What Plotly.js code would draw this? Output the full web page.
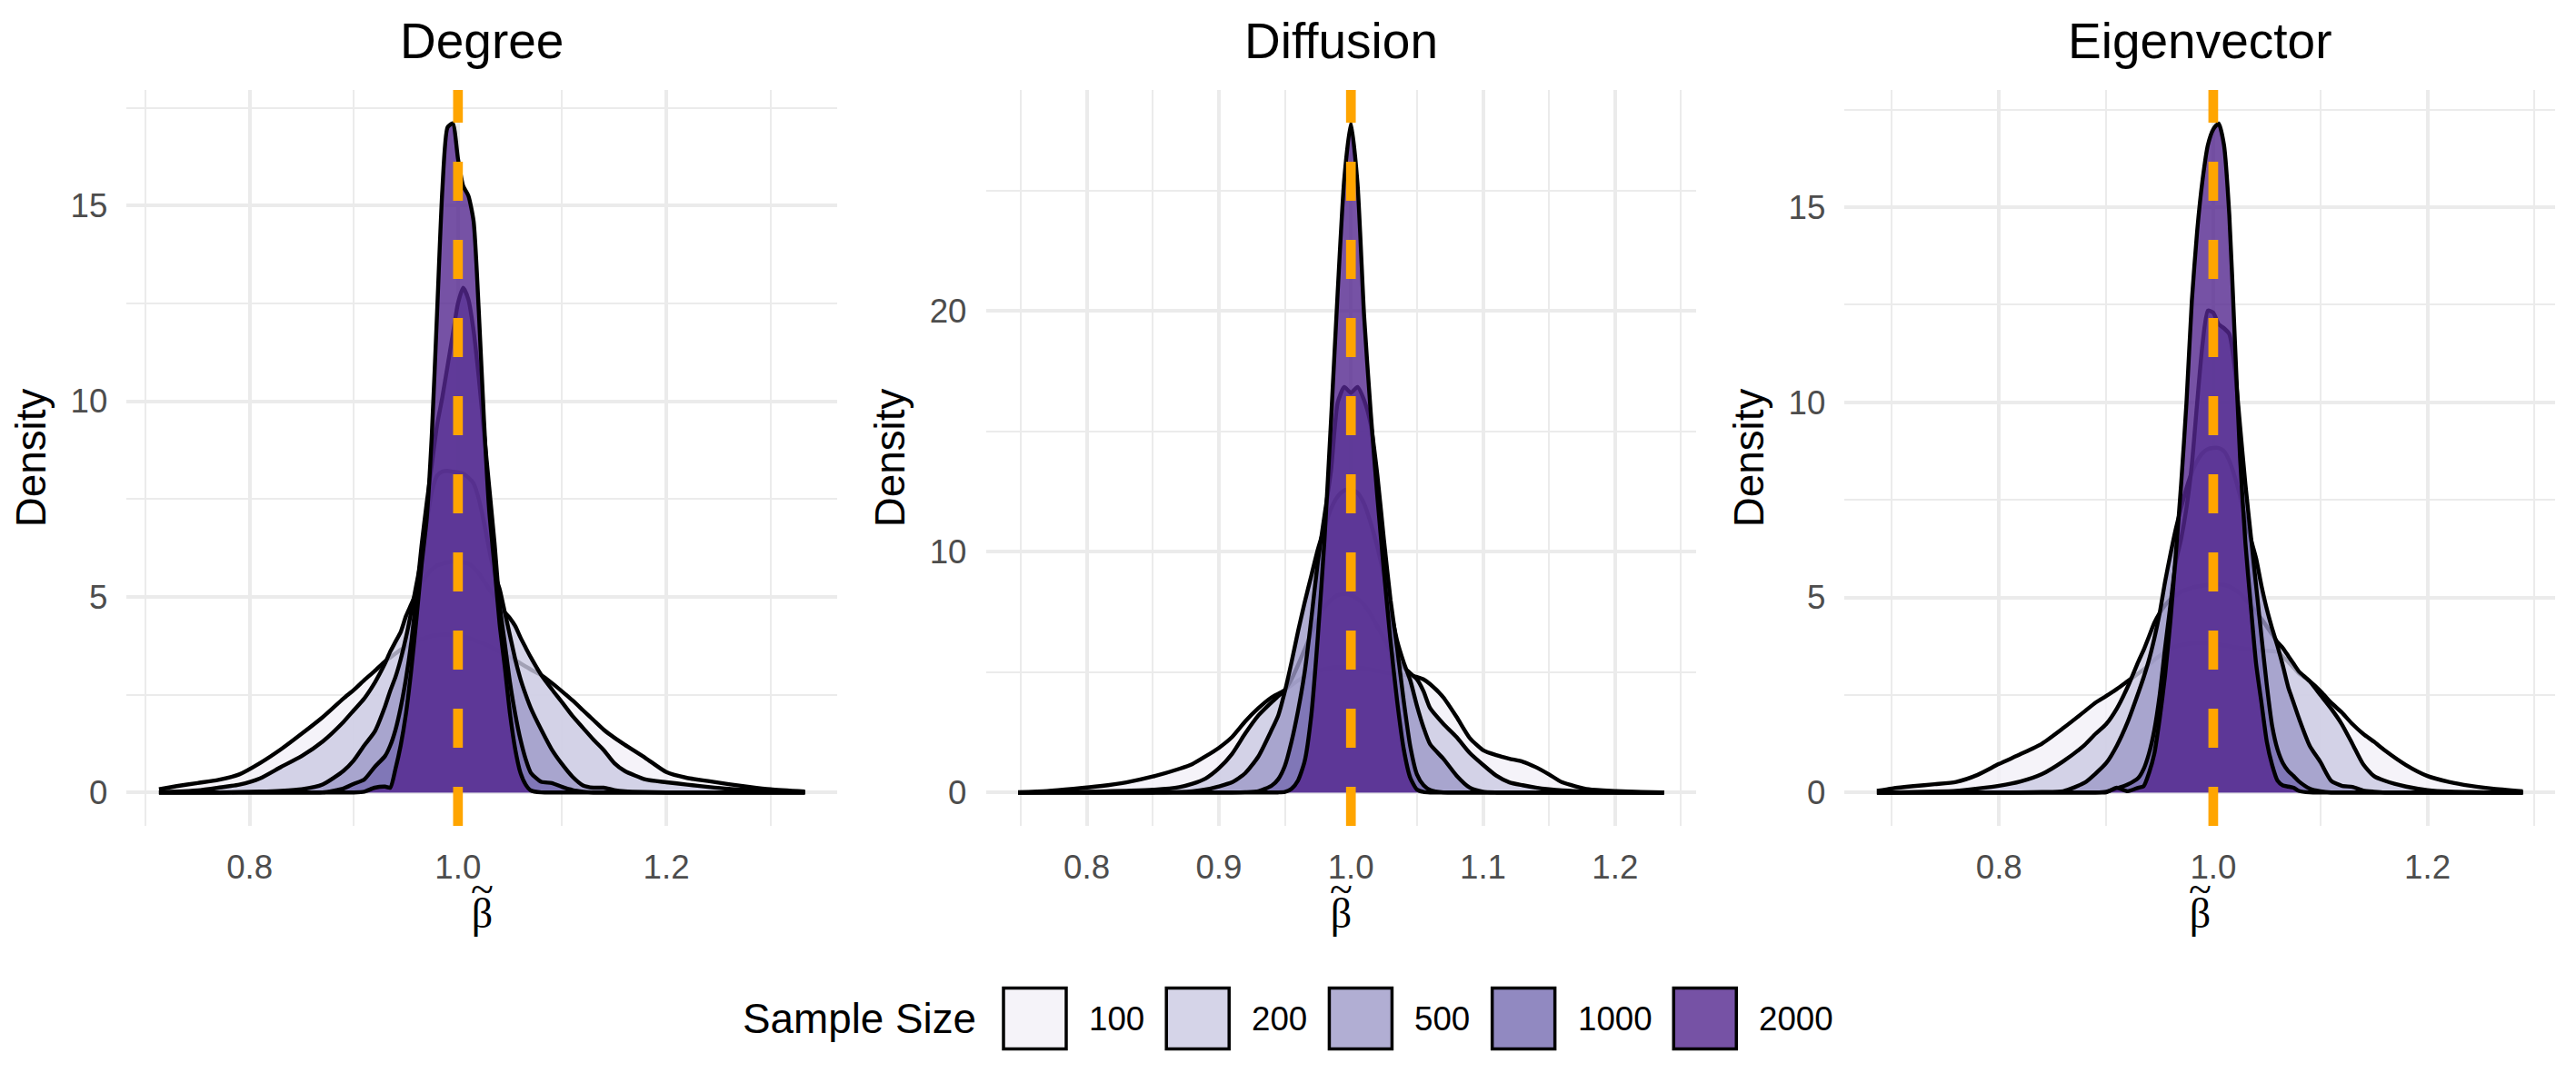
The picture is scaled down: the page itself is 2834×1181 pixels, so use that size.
<!DOCTYPE html>
<html>
<head>
<meta charset="utf-8">
<script src="https://cdn.plot.ly/plotly-3.0.1.min.js"></script>
<style>
  html, body { margin: 0; padding: 0; background: #fff; }
  #chart { width: 2834px; height: 1181px; }
</style>
</head>
<body>
<div id="chart"></div>
<script>
// legend categories and the Purples palette (drawn at alpha 0.8)
var sampleSizes = ['100', '200', '500', '1000', '2000'];
var fillColors = ['rgba(242,240,247,0.8)', 'rgba(203,201,226,0.8)', 'rgba(158,154,200,0.8)',
                  'rgba(117,107,177,0.8)', 'rgba(84,39,143,0.8)'];
var panelTitles = ['Degree', 'Diffusion', 'Eigenvector'];
var trueBeta = 1;

// Degree
var degX = [0.713, 0.73, 0.75, 0.77, 0.79, 0.81, 0.83, 0.85, 0.87, 0.89,
            0.90, 0.91, 0.92, 0.93, 0.935, 0.94, 0.945, 0.95, 0.955, 0.96,
            0.965, 0.97, 0.975, 0.98, 0.985, 0.99, 0.995, 1.0, 1.005, 1.01,
            1.015, 1.02, 1.025, 1.03, 1.035, 1.04, 1.045, 1.05, 1.055, 1.06,
            1.065, 1.07, 1.08, 1.09, 1.10, 1.11, 1.12, 1.13, 1.14, 1.15,
            1.16, 1.18, 1.20, 1.22, 1.24, 1.26, 1.28, 1.30, 1.333];
var deg100 = [0.08, 0.16, 0.24, 0.32, 0.46, 0.75, 1.1, 1.5, 1.92, 2.4,
              2.62, 2.87, 3.1, 3.35, 3.45, 3.55, 3.65, 3.72, 3.8, 3.86,
              3.92, 3.96, 4.0, 4.02, 4.03, 4.03, 4.02, 4.0, 3.98, 3.95,
              3.9, 3.85, 3.8, 3.74, 3.67, 3.6, 3.52, 3.45, 3.38, 3.3,
              3.22, 3.14, 3.0, 2.8, 2.58, 2.35, 2.1, 1.85, 1.6, 1.4,
              1.22, 0.88, 0.52, 0.37, 0.29, 0.21, 0.14, 0.08, 0.02];
var deg200 = [0.01, 0.02, 0.05, 0.12, 0.2, 0.36, 0.65, 0.93, 1.3, 1.8,
              2.1, 2.4, 2.8, 3.3, 3.6, 3.85, 4.1, 4.5, 4.8, 5.1,
              5.35, 5.55, 5.7, 5.8, 5.85, 5.88, 5.9, 5.9, 5.88, 5.85,
              5.75, 5.6, 5.4, 5.2, 5.0, 4.8, 4.6, 4.45, 4.25, 3.96,
              3.7, 3.45, 3.0, 2.64, 2.3, 1.95, 1.65, 1.35, 1.08, 0.75,
              0.55, 0.33, 0.26, 0.2, 0.14, 0.09, 0.06, 0.03, 0.01];
var deg500 = [0, 0, 0, 0, 0.01, 0.02, 0.04, 0.08, 0.2, 0.55,
              0.82, 1.2, 1.55, 2.2, 2.6, 2.95, 3.4, 3.95, 4.6, 5.3,
              6.0, 6.9, 7.7, 8.1, 8.2, 8.22, 8.2, 8.18, 8.15, 8.05,
              7.9, 7.5, 6.9, 6.2, 5.6, 5.2, 4.6, 4.0, 3.4, 2.9,
              2.5, 2.15, 1.6, 1.1, 0.72, 0.4, 0.18, 0.12, 0.12, 0.06,
              0.03, 0.01, 0, 0, 0, 0, 0, 0, 0];
var deg1000 = [0, 0, 0, 0, 0, 0, 0, 0, 0, 0.1,
               0.22, 0.33, 0.65, 0.93, 1.2, 1.6, 2.17, 2.9, 3.8, 5.0,
               6.3, 7.4, 8.4, 9.4, 10.1, 10.9, 11.7, 12.5, 12.9, 12.6,
               11.8, 10.6, 9.2, 7.8, 6.4, 4.8, 3.8, 2.8, 2.0, 1.35,
               0.85, 0.5, 0.27, 0.24, 0.14, 0.06, 0.02, 0, 0, 0,
               0, 0, 0, 0, 0, 0, 0, 0, 0];
var deg2000 = [0, 0, 0, 0, 0, 0, 0, 0, 0, 0,
               0, 0.02, 0.12, 0.15, 0.12, 0.6, 1.2, 2.0, 3.1, 4.4,
               5.8, 7.0, 9.2, 12.3, 15.4, 17.0, 17.1, 16.2, 15.5, 15.25,
               14.6, 12.3, 9.5, 7.2, 5.8, 4.3, 3.2, 2.0, 1.1, 0.5,
               0.2, 0.05, 0, 0, 0, 0, 0, 0, 0, 0,
               0, 0, 0, 0, 0, 0, 0, 0, 0];

// Diffusion
var difX = [0.748, 0.77, 0.79, 0.81, 0.83, 0.85, 0.87, 0.88, 0.89, 0.90,
            0.91, 0.92, 0.93, 0.94, 0.945, 0.95, 0.955, 0.96, 0.965, 0.97,
            0.975, 0.98, 0.985, 0.99, 0.995, 1.0, 1.005, 1.01, 1.015, 1.02,
            1.025, 1.03, 1.035, 1.04, 1.045, 1.05, 1.055, 1.06, 1.07, 1.08,
            1.09, 1.10, 1.11, 1.12, 1.13, 1.14, 1.15, 1.16, 1.18, 1.20,
            1.22, 1.237];
var dif100 = [0.01, 0.06, 0.15, 0.26, 0.42, 0.66, 0.98, 1.18, 1.5, 1.85,
              2.3, 2.95, 3.5, 3.95, 4.1, 4.25, 4.45, 4.65, 4.8, 4.95,
              5.05, 5.12, 5.18, 5.2, 5.2, 5.2, 5.18, 5.15, 5.1, 5.05,
              5.0, 4.95, 4.9, 4.88, 4.85, 4.8, 4.7, 4.5, 3.95, 3.14,
              2.26, 1.76, 1.55, 1.4, 1.28, 1.05, 0.75, 0.42, 0.13, 0.06,
              0.02, 0];
var dif200 = [0, 0.01, 0.02, 0.04, 0.07, 0.11, 0.22, 0.36, 0.58, 1.0,
              1.6, 2.45, 3.2, 3.75, 4.0, 4.25, 4.7, 5.3, 5.95, 6.6,
              7.2, 7.7, 8.0, 8.2, 8.25, 8.2, 8.05, 7.8, 7.4, 6.9,
              6.4, 5.9, 5.5, 5.2, 4.95, 4.7, 4.2, 3.5, 2.85, 2.3,
              1.64, 1.15, 0.7, 0.42, 0.3, 0.2, 0.13, 0.08, 0.03, 0.01,
              0, 0];
var dif500 = [0, 0, 0, 0, 0, 0, 0.02, 0.05, 0.12, 0.25,
              0.42, 0.8, 1.5, 2.6, 3.2, 4.2, 5.4, 6.7, 7.9, 9.0,
              10.1, 11.0, 11.8, 12.3, 12.55, 12.6, 12.45, 12.0, 11.2, 10.2,
              9.0, 7.6, 6.3, 5.4, 4.65, 3.6, 2.7, 2.0, 1.4, 0.7,
              0.2, 0.03, 0, 0, 0, 0, 0, 0, 0, 0,
              0, 0];
var dif1000 = [0, 0, 0, 0, 0, 0, 0, 0, 0, 0,
               0, 0.01, 0.05, 0.28, 0.55, 1.1, 2.1, 3.4, 5.0, 7.2,
               9.6, 11.5, 13.4, 16.2, 16.85, 16.6, 16.85, 16.3, 15.3, 13.2,
               10.5, 8.0, 6.0, 3.8, 1.9, 0.75, 0.3, 0.1, 0, 0,
               0, 0, 0, 0, 0, 0, 0, 0, 0, 0,
               0, 0];
var dif2000 = [0, 0, 0, 0, 0, 0, 0, 0, 0, 0,
               0, 0, 0, 0, 0, 0.02, 0.15, 0.5, 1.3, 3.2,
               6.5, 10.5, 15.5, 20.8, 25.5, 27.8, 25.3, 19.8, 15.8, 12.3,
               9.2, 6.3, 3.8, 1.8, 0.6, 0.12, 0.02, 0, 0, 0,
               0, 0, 0, 0, 0, 0, 0, 0, 0, 0,
               0, 0];

// Eigenvector
var eigX = [0.686, 0.70, 0.72, 0.74, 0.76, 0.78, 0.80, 0.82, 0.84, 0.86,
            0.88, 0.89, 0.90, 0.91, 0.92, 0.93, 0.935, 0.94, 0.945, 0.95,
            0.955, 0.96, 0.965, 0.97, 0.975, 0.98, 0.985, 0.99, 0.995, 1.0,
            1.005, 1.01, 1.015, 1.02, 1.025, 1.03, 1.035, 1.04, 1.045, 1.05,
            1.055, 1.06, 1.065, 1.07, 1.075, 1.08, 1.09, 1.10, 1.11, 1.12,
            1.13, 1.14, 1.15, 1.16, 1.18, 1.20, 1.22, 1.24, 1.26, 1.289];
var eig100 = [0.04, 0.1, 0.16, 0.21, 0.27, 0.45, 0.73, 0.98, 1.25, 1.65,
              2.08, 2.3, 2.47, 2.65, 2.85, 3.05, 3.15, 3.28, 3.4, 3.5,
              3.6, 3.68, 3.74, 3.78, 3.8, 3.82, 3.83, 3.83, 3.82, 3.8,
              3.79, 3.77, 3.75, 3.72, 3.7, 3.68, 3.66, 3.65, 3.64, 3.63,
              3.62, 3.6, 3.48, 3.35, 3.2, 3.05, 2.85, 2.6, 2.3, 2.05,
              1.75, 1.5, 1.3, 1.08, 0.7, 0.42, 0.27, 0.17, 0.1, 0.03];
var eig200 = [0, 0, 0.01, 0.02, 0.04, 0.1, 0.17, 0.28, 0.47, 0.8,
              1.22, 1.5, 1.75, 2.15, 2.7, 3.35, 3.65, 4.0, 4.35, 4.6,
              4.8, 4.95, 5.05, 5.15, 5.2, 5.25, 5.28, 5.3, 5.32, 5.34,
              5.34, 5.32, 5.28, 5.2, 5.1, 4.95, 4.8, 4.62, 4.45, 4.25,
              4.05, 3.85, 3.7, 3.5, 3.3, 3.1, 2.85, 2.5, 2.15, 1.75,
              1.24, 0.72, 0.42, 0.3, 0.15, 0.06, 0.02, 0.01, 0, 0];
var eig500 = [0, 0, 0, 0, 0, 0, 0, 0, 0.01, 0.03,
              0.25, 0.48, 0.75, 1.2, 1.8, 2.55, 2.95, 3.4, 3.95, 4.6,
              5.4, 6.1, 6.75, 7.3, 7.8, 8.2, 8.5, 8.7, 8.8, 8.83,
              8.83, 8.75, 8.5, 8.1, 7.6, 7.0, 6.5, 6.0, 5.3, 4.7,
              4.2, 3.75, 3.25, 2.7, 2.3, 1.9, 1.2, 0.78, 0.3, 0.17,
              0.14, 0.05, 0.02, 0, 0, 0, 0, 0, 0, 0];
var eig1000 = [0, 0, 0, 0, 0, 0, 0, 0, 0, 0,
               0, 0, 0.02, 0.1, 0.2, 0.37, 0.6, 1.0, 1.6, 2.5,
               3.7, 4.8, 5.9, 6.5, 7.3, 8.4, 10.0, 11.5, 12.35, 12.3,
               12.0, 11.9, 11.75, 10.9, 9.4, 7.9, 6.6, 5.3, 4.0, 2.75,
               1.7, 1.1, 0.75, 0.55, 0.42, 0.28, 0.1, 0.03, 0, 0,
               0, 0, 0, 0, 0, 0, 0, 0, 0, 0];
var eig2000 = [0, 0, 0, 0, 0, 0, 0, 0, 0, 0,
               0, 0, 0, 0.12, 0.03, 0.12, 0.16, 0.5, 1.0, 1.9,
               3.0, 4.4, 6.1, 7.9, 10.0, 12.6, 14.4, 15.7, 16.6, 17.0,
               17.15, 16.6, 14.8, 11.7, 8.6, 6.4, 4.8, 3.3, 2.3, 1.3,
               0.7, 0.3, 0.18, 0.15, 0.12, 0.04, 0, 0, 0, 0,
               0, 0, 0, 0, 0, 0, 0, 0, 0, 0];

var panels = [
  {x: degX, ys: [deg100, deg200, deg500, deg1000, deg2000], xdtick: 0.2, ydtick: 5},
  {x: difX, ys: [dif100, dif200, dif500, dif1000, dif2000], xdtick: 0.1, ydtick: 10},
  {x: eigX, ys: [eig100, eig200, eig500, eig1000, eig2000], xdtick: 0.2, ydtick: 5}
];

// page geometry in pixels
var W = 2834, H = 1181;
var panelLeft = [139.4, 1084.5, 2029.4];
var panelWidth = 781.6;
var panelTop = 99, panelBottom = 909;
function px2x(px) { return px / W; }
function px2y(py) { return 1 - py / H; }

// ggplot-style 5% expansion
function padRange(lo, hi) {
  var d = (hi - lo) * 0.05;
  return [lo - d, hi + d];
}

var sans = 'Liberation Sans, Arial, sans-serif';
var serif = 'Liberation Serif, Times New Roman, serif';
var tickFont = {family: sans, size: 36.7, color: '#4D4D4D'};
var titleFont = {family: sans, size: 45.8, color: '#000000'};
var gridCol = '#EBEBEB';

// beta with a tilde on top: tight line spacing comes from the small base size
var betaTilde = '<span style="font-size:46px">~</span><br><span style="font-size:46px">\u03B2</span>';

var data = [];
var layout = {
  width: W, height: H,
  margin: {l: 0, r: 0, t: 0, b: 0},
  paper_bgcolor: '#ffffff',
  plot_bgcolor: '#ffffff',
  font: {family: sans, color: '#000000'},
  showlegend: false,
  shapes: [],
  annotations: []
};

panels.forEach(function(p, i) {
  var sfx = i === 0 ? '' : String(i + 1);
  var ymax = 0;
  p.ys.forEach(function(ys, k) {
    ymax = Math.max(ymax, Math.max.apply(null, ys));
    data.push({
      type: 'scatter', mode: 'lines',
      x: p.x, y: ys,
      xaxis: 'x' + sfx, yaxis: 'y' + sfx,
      fill: 'tozeroy', fillcolor: fillColors[k],
      line: {color: '#000000', width: 4.4, shape: 'spline', smoothing: 0.6},
      name: sampleSizes[k], showlegend: false, hoverinfo: 'skip'
    });
  });

  layout['xaxis' + sfx] = {
    domain: [px2x(panelLeft[i]), px2x(panelLeft[i] + panelWidth)],
    anchor: 'y' + sfx,
    range: padRange(p.x[0], p.x[p.x.length - 1]),
    tickmode: 'linear', tick0: 0, dtick: p.xdtick, tickformat: '.1f',
    showgrid: true, gridcolor: gridCol, gridwidth: 4.4,
    minor: {tick0: 0, dtick: p.xdtick / 2, showgrid: true, gridcolor: gridCol, gridwidth: 2.2},
    zeroline: false, showline: false, ticks: '',
    tickfont: tickFont, ticklabelstandoff: 20
  };
  layout['yaxis' + sfx] = {
    domain: [px2y(panelBottom), px2y(panelTop)],
    anchor: 'x' + sfx,
    range: padRange(0, ymax),
    tickmode: 'linear', tick0: 0, dtick: p.ydtick,
    showgrid: true, gridcolor: gridCol, gridwidth: 4.4,
    minor: {tick0: 0, dtick: p.ydtick / 2, showgrid: true, gridcolor: gridCol, gridwidth: 2.2},
    zeroline: false, showline: false, ticks: '',
    tickfont: tickFont, ticklabelstandoff: 20,
    title: {text: 'Density', font: titleFont, standoff: 12}
  };

  // x title (beta tilde), centred under the panel
  layout.annotations.push({
    xref: 'x' + sfx + ' domain', yref: 'paper',
    x: 0.5, y: px2y(992), xanchor: 'center', yanchor: 'middle',
    text: betaTilde, showarrow: false,
    font: {family: serif, size: 21, color: '#000000'}
  });

  // true value reference line
  layout.shapes.push({
    type: 'line', xref: 'x' + sfx, yref: 'y' + sfx + ' domain',
    x0: trueBeta, x1: trueBeta, y0: 0, y1: 1,
    line: {color: '#FFA500', width: 10.7, dash: '43px,43px'}
  });

  layout.annotations.push({
    xref: 'x' + sfx + ' domain', yref: 'paper',
    x: 0.5, y: px2y(45), xanchor: 'center', yanchor: 'middle',
    text: panelTitles[i], showarrow: false,
    font: {family: sans, size: 55, color: '#000000'}
  });
});

// legend: title, then key box + label per sample size
var legY = 1121, keyW = 69, keyH = 67, labelSize = 36.7;
layout.annotations.push({
  xref: 'paper', yref: 'paper', x: px2x(1076), y: px2y(legY),
  xanchor: 'right', yanchor: 'middle', text: 'Sample Size', showarrow: false,
  font: titleFont
});
var legX = 1104;
sampleSizes.forEach(function(s, k) {
  layout.shapes.push({
    type: 'rect', xref: 'paper', yref: 'paper',
    x0: px2x(legX), x1: px2x(legX + keyW),
    y0: px2y(legY + keyH / 2), y1: px2y(legY - keyH / 2),
    fillcolor: fillColors[k], line: {color: '#000000', width: 3.5}
  });
  layout.annotations.push({
    xref: 'paper', yref: 'paper', x: px2x(legX + keyW + 23), y: px2y(legY),
    xanchor: 'left', yanchor: 'middle', text: s, showarrow: false,
    font: {family: sans, size: labelSize, color: '#000000'}
  });
  legX += keyW + 23 + s.length * 0.556 * labelSize + 26;
});

Plotly.newPlot('chart', data, layout, {displayModeBar: false});
</script>
</body>
</html>
